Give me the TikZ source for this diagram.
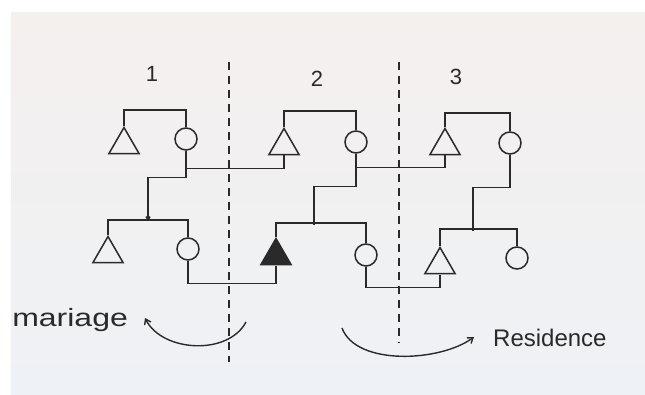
\documentclass[tikz,border=0pt]{standalone}
\usepackage{fontspec}
\setmainfont{Liberation Sans}
\usetikzlibrary{shapes.geometric,arrows.meta}
\definecolor{ink}{HTML}{2A2A2A}
\definecolor{papertop}{HTML}{F4F0EE}
\definecolor{paperbot}{HTML}{EEF1F5}
\tikzset{
  male/.style={regular polygon, regular polygon sides=3, draw=ink, line width=1.5pt,
               minimum size=35pt, inner sep=0pt},
  female/.style={circle, draw=ink, line width=1.5pt, minimum size=22pt, inner sep=0pt},
  ego/.style={male, fill=ink},
  tie/.style={draw=ink, line width=1.5pt},
  divider/.style={draw=ink, line width=1.2pt, dash pattern=on 8pt off 6pt},
  ruleArrow/.style={draw=ink, line width=1.4pt, -{Straight Barb[length=5pt,width=7pt]}},
  caption/.style={text=ink, inner sep=0pt, anchor=base},
}
\begin{document}
\begin{tikzpicture}[x=1pt,y=-1pt]
% page and paper sheet
\fill[white] (0,0) rectangle (645,395);
\useasboundingbox (0,0) rectangle (645,395);
\shade[top color=papertop, bottom color=paperbot] (11,13) rectangle (645,395);

% section dividers and numbers
\draw[divider] (229,62) -- (229,362);
\draw[divider] (399,62) -- (399,343);
\node[caption, font=\fontsize{22}{22}\selectfont] (n1) at (152,82) {1};
\node[caption, font=\fontsize{22}{22}\selectfont] (n2) at (317,87) {2};
\node[caption, font=\fontsize{22}{22}\selectfont] (n3) at (456,85) {3};

% upper generation
\node[male]   (T1a) at (124,145) {};
\node[female] (C1a) at (186,139) {};
\node[male]   (T2a) at (284,146) {};
\node[female] (C2a) at (356,142) {};
\node[male]   (T3a) at (445,146) {};
\node[female] (C3a) at (510,143) {};

% lower generation
\node[male]   (T1b) at (108,254) {};
\node[female] (C1b) at (188,249) {};
\node[ego]    (T2b) at (276,256) {};
\node[female] (C2b) at (366,255) {};
\node[male]   (T3b) at (440,265) {};
\node[female] (C3b) at (517,258) {};

% sibling brackets
\draw[tie] (T1a.north) -- ++(0,-16) -| (C1a.north);
\draw[tie] (T2a.north) -- ++(0,-16) -| (C2a.north);
\draw[tie] (T3a.north) -- ++(0,-14) -| (C3a.north);
\draw[tie] (T1b.north) -- ++(0,-15) -| (C1b.north);
\draw[tie] (T2b.north) -- ++(0,-14) -| (C2b.north);
\draw[tie] (T3b.north) -- ++(0,-17) -| (C3b.north);

% marriages across sections
\draw[tie] (C1a.south) -- ++(0,18) coordinate (j1) -| (T2a.south);
\draw[tie] (C2a.south) -- ++(0,14) coordinate (j2) -| (T3a.south);
\draw[tie] (C1b.south) -- ++(0,23) -| (T2b.south);
\draw[tie] (C2b.south) -- ++(0,21) -| (T3b.south);

% descent lines down to the sibling brackets
\coordinate (d1) at (148,221);
\coordinate (d2) at (314,225);
\coordinate (d3) at (473,231);
\draw[tie, -{Straight Barb[length=3pt,width=4pt]}] (j1) -- ++(0,9) -| (d1);
\draw[tie] (j2) -- ++(0,19) -| (d2);
\draw[tie] (C3a.south) -- ++(0,33) -| (d3);

% rule arrows and their captions
\coordinate (ma) at (246,322);
\coordinate (mb) at (145,318);
\draw[ruleArrow] (ma) .. controls (228,356) and (162,352) .. (mb);
\node[caption, font=\fontsize{25}{25}\selectfont, xscale=1.28, anchor=base west] (mar) at (12,326) {mariage};

\coordinate (ra) at (342,328);
\coordinate (rb) at (474,337);
\draw[ruleArrow] (ra) .. controls (356,366) and (440,362) .. (rb);
\node[caption, font=\fontsize{24}{24}\selectfont, anchor=base west] (res) at (493,346) {Residence};
\end{tikzpicture}
\end{document}
